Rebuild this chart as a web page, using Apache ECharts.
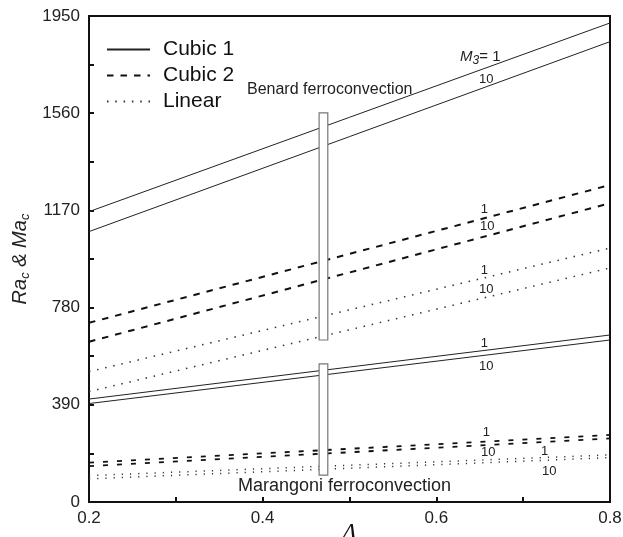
<!DOCTYPE html>
<html>
<head>
<meta charset="utf-8">
<script src="https://cdn.jsdelivr.net/npm/echarts@6/dist/echarts.min.js"></script>
<style>
  html, body { margin: 0; padding: 0; background: #fff; }
  #chart { width: 623px; height: 537px; }
</style>
</head>
<body>
<div id="chart"></div>
<script>
// Critical Rayleigh / Marangoni numbers versus Λ for M3 = 1 and M3 = 10
const lambda = [0.2, 0.8];

// Benard ferroconvection (Ra_c)
const benardCubic1M1 = [1165, 1922];
const benardCubic1M10 = [1085, 1847];
const benardCubic2M1 = [719, 1272];
const benardCubic2M10 = [643, 1199];
const benardLinearM1 = [523, 1019];
const benardLinearM10 = [443, 939];

// Marangoni ferroconvection (Ma_c)
const marangoniCubic1M1 = [413, 670];
const marangoniCubic1M10 = [395, 650];
const marangoniCubic2M1 = [158, 269];
const marangoniCubic2M10 = [144, 255];
const marangoniLinearM1 = [106, 189];
const marangoniLinearM10 = [93, 178];

// Vertical bars marking the two families of curves
const bandLambda = [0.465, 0.475];
const benardBand = [650, 1561];
const marangoniBand = [108, 554];

// Axis ticks
const xTicks = [0.2, 0.4, 0.6, 0.8];
const yTicks = [0, 390, 780, 1170, 1560, 1950];

// Curve labels (text, Λ, value)
const curveLabels = [
  ['10', 0.6575, 1697],
  ['1', 0.6552, 1172], ['10', 0.6586, 1104],
  ['1', 0.6552, 929], ['10', 0.6575, 853],
  ['1', 0.6552, 638], ['10', 0.6575, 544],
  ['1', 0.6575, 281], ['10', 0.6598, 199],
  ['1', 0.7246, 201], ['10', 0.7299, 122]
];

const FONT = '"Liberation Sans", Arial, Helvetica, sans-serif';

const solid = { color: '#222', width: 1, type: 'solid' };
const dashed = { color: '#111', width: 2, type: [6.5, 7] };
const dotted = { color: '#333', width: 1.5, type: [1.5, 6.8] };
const dashedSmall = { color: '#111', width: 1.8, type: [5, 9] };
const dottedSmall = { color: '#333', width: 1.5, type: [1.2, 7] };

function curve(name, values, style) {
  return {
    type: 'line',
    name: name,
    data: lambda.map((x, i) => [x, values[i]]),
    symbol: 'none',
    color: '#111',
    lineStyle: style,
    silent: true,
    z: 2
  };
}

const bandData = [
  [bandLambda[0], bandLambda[1], benardBand[0], benardBand[1]],
  [bandLambda[0], bandLambda[1], marangoniBand[0], marangoniBand[1]]
];

const chart = echarts.init(document.getElementById('chart'), null, { renderer: 'canvas' });

chart.setOption({
  animation: false,
  backgroundColor: '#fff',
  textStyle: { fontFamily: FONT },
  grid: {
    left: 89, right: 13, top: 16, bottom: 35,
    outerBoundsMode: 'none',
    containLabel: false,
    show: true, borderColor: '#111', borderWidth: 2, backgroundColor: 'transparent'
  },
  legend: {
    orient: 'vertical',
    left: 101, top: 34,
    itemWidth: 43, itemHeight: 14, itemGap: 5,
    selectedMode: false,
    itemStyle: { opacity: 0 },
    data: ['Cubic 1', 'Cubic 2', 'Linear'],
    textStyle: { fontSize: 21, color: '#111', fontFamily: FONT, padding: [0, 0, 0, 8] }
  },
  xAxis: {
    type: 'value',
    min: 0.2, max: 0.8, interval: 0.1,
    name: 'Λ',
    nameLocation: 'middle',
    nameGap: 19,
    nameMoveOverlap: false,
    nameTextStyle: { fontFamily: '"Liberation Serif", "DejaVu Serif", serif', fontStyle: 'italic', fontSize: 24, color: '#111' },
    axisLine: { show: true, lineStyle: { color: '#111', width: 2 } },
    axisTick: { show: true, inside: true, length: 5, lineStyle: { color: '#111', width: 2 } },
    axisLabel: {
      fontSize: 17, color: '#222', margin: 8,
      formatter: v => {
        const t = xTicks.find(k => Math.abs(k - v) < 1e-6);
        return t === undefined ? '' : t.toFixed(1);
      }
    },
    splitLine: { show: false }
  },
  yAxis: {
    type: 'value',
    min: 0, max: 1950, interval: 195,
    name: '{i|Ra}{s|c}{i| & Ma}{s|c}',
    nameLocation: 'middle',
    nameGap: 57,
    nameMoveOverlap: false,
    nameTextStyle: {
      rich: {
        i: { fontFamily: FONT, fontStyle: 'italic', fontSize: 20, color: '#222', lineHeight: 24 },
        s: { fontFamily: FONT, fontStyle: 'italic', fontSize: 13, color: '#222', verticalAlign: 'bottom', lineHeight: 24 }
      }
    },
    axisLine: { show: true, lineStyle: { color: '#111', width: 2 } },
    axisTick: { show: true, inside: true, length: 5, lineStyle: { color: '#111', width: 2 } },
    axisLabel: {
      fontSize: 17, color: '#222', margin: 9,
      formatter: v => (yTicks.indexOf(v) >= 0 ? String(v) : '')
    },
    splitLine: { show: false }
  },
  graphic: [
    {
      type: 'text', left: 247, top: 82,
      style: { text: 'Benard ferroconvection', fontSize: 16, fontFamily: FONT, fill: '#222' }
    },
    {
      type: 'text', left: 238, top: 477,
      style: { text: 'Marangoni ferroconvection', fontSize: 18, fontFamily: FONT, fill: '#222' }
    }
  ],
  series: [
    curve('Cubic 1', benardCubic1M1, solid),
    curve('Cubic 1', benardCubic1M10, solid),
    curve('Cubic 2', benardCubic2M1, dashed),
    curve('Cubic 2', benardCubic2M10, dashed),
    curve('Linear', benardLinearM1, dotted),
    curve('Linear', benardLinearM10, dotted),
    curve('Cubic 1', marangoniCubic1M1, solid),
    curve('Cubic 1', marangoniCubic1M10, solid),
    curve('Cubic 2', marangoniCubic2M1, dashedSmall),
    curve('Cubic 2', marangoniCubic2M10, dashedSmall),
    curve('Linear', marangoniLinearM1, dottedSmall),
    curve('Linear', marangoniLinearM10, dottedSmall),
    {
      type: 'custom',
      name: 'bands',
      silent: true,
      z: 5,
      data: bandData,
      renderItem: (params, api) => {
        const p0 = api.coord([api.value(0), api.value(3)]);
        const p1 = api.coord([api.value(1), api.value(2)]);
        return {
          type: 'rect',
          shape: { x: p0[0], y: p0[1], width: p1[0] - p0[0], height: p1[1] - p0[1] },
          style: { fill: '#fff', stroke: '#777', lineWidth: 1.2 }
        };
      }
    },
    {
      type: 'custom',
      name: 'curveLabels',
      silent: true,
      z: 6,
      data: curveLabels.map(d => [d[1], d[2], d[0]]),
      renderItem: (params, api) => {
        const p = api.coord([api.value(0), api.value(1)]);
        return {
          type: 'text',
          x: p[0], y: p[1],
          style: {
            text: curveLabels[params.dataIndex][0],
            fontSize: 13, fontFamily: FONT, fill: '#222',
            align: 'center', verticalAlign: 'middle'
          }
        };
      }
    },
    {
      type: 'custom',
      name: 'm3Label',
      silent: true,
      z: 6,
      data: [[0.6506, 1786]],
      renderItem: (params, api) => {
        const p = api.coord([api.value(0), api.value(1)]);
        return {
          type: 'text',
          x: p[0], y: p[1],
          style: {
            text: '{m|M}{s|3}{n|= 1}',
            align: 'center', verticalAlign: 'middle',
            rich: {
              m: { fontFamily: FONT, fontStyle: 'italic', fontSize: 15, fill: '#222', lineHeight: 16 },
              s: { fontFamily: FONT, fontStyle: 'italic', fontSize: 12, fill: '#222', verticalAlign: 'bottom', lineHeight: 20 },
              n: { fontFamily: FONT, fontSize: 15, fill: '#222', lineHeight: 16 }
            }
          }
        };
      }
    }
  ]
});
</script>
</body>
</html>
